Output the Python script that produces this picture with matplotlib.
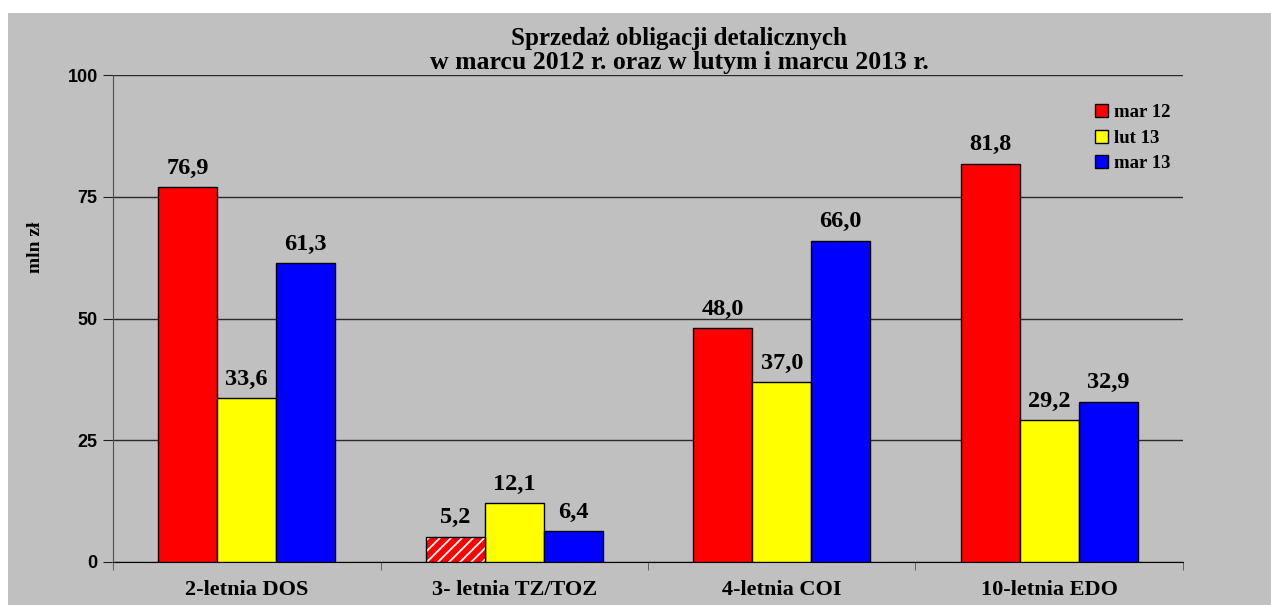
import numpy as np
import matplotlib.pyplot as plt
from matplotlib.patches import Rectangle

categories = ['2-letnia DOS', '3- letnia TZ/TOZ', '4-letnia COI', '10-letnia EDO']
mar12 = [76.9, 5.2, 48.0, 81.8]
lut13 = [33.6, 12.1, 37.0, 29.2]
mar13 = [61.3, 6.4, 66.0, 32.9]
series_names = ['mar 12', 'lut 13', 'mar 13']
yticks = [0, 25, 50, 75, 100]

serif = 'Liberation Serif'
sans = 'Liberation Sans'
plt.rcParams['hatch.linewidth'] = 1.3

W, H = 1271, 605
fig = plt.figure(figsize=(W / 100, H / 100), dpi=100)
fig.patch.set_facecolor('white')
# szare tlo wykresu
fig.patches.append(Rectangle((8 / W, 0), 1 - 8 / W, 1 - 13 / H, transform=fig.transFigure,
                             facecolor='#C0C0C0', edgecolor='none', zorder=-10))

ax = fig.add_axes([113 / W, 1 - 562 / H, (1183 - 113) / W, (562 - 75) / H])
ax.set_facecolor('#C0C0C0')

x = np.arange(len(categories))
w = 0.22
colors = ['#FF0000', '#FFFF00', '#0000FF']
allvals = [mar12, lut13, mar13]

for k, (vals, c) in enumerate(zip(allvals, colors)):
    pos = x + (k - 1) * w
    ax.bar(pos, vals, w, color=c, edgecolor='black', linewidth=1, zorder=3)
    for p, v in zip(pos, vals):
        ax.annotate(f'{v:.1f}'.replace('.', ','), (p, v), xytext=(0, 6),
                    textcoords='offset points', ha='center', va='bottom',
                    fontsize=17.5, fontweight='bold', family=serif, zorder=5)

# kreskowany slupek TZ/TOZ mar 12
ax.patches[1].set_visible(False)
ax.bar(x[1] - w, mar12[1], w, color='#FF0000', edgecolor='white', hatch='///',
       linewidth=0, zorder=3)
ax.bar(x[1] - w, mar12[1], w, fill=False, edgecolor='black', linewidth=1, zorder=4)

ax.set_xlim(-0.5, len(categories) - 0.5)
ax.set_ylim(0, 100)
ax.set_yticks(yticks)
ax.set_yticklabels([str(t) for t in yticks], fontsize=13, fontweight='bold', family=sans)
ax.yaxis.grid(True, color='#2a2a2a', linewidth=1)
ax.set_axisbelow(True)

ax.set_xticks(x)
ax.set_xticklabels(categories, fontsize=16, fontweight='bold', family=serif)
ax.tick_params(axis='x', length=0, pad=13)
ax.set_xticks(np.arange(-0.5, len(categories)), minor=True)
ax.tick_params(axis='x', which='minor', length=6, direction='out', color='#505050')
ax.tick_params(axis='y', length=7, direction='out', color='#202020', pad=4)

for s in ['top', 'right']:
    ax.spines[s].set_visible(False)
ax.spines['left'].set_color('#505050')
ax.spines['bottom'].set_color('black')

fig.text(35 / W, 1 - 247 / H, 'mln zł', rotation=90, ha='center', va='center',
         fontsize=14, fontweight='bold', family=serif)

fig.text(679 / W, 1 - 38 / H, 'Sprzedaż obligacji detalicznych', ha='center', va='center',
         fontsize=18, fontweight='bold', family=serif)
fig.text(679 / W, 1 - 63 / H, 'w marcu 2012 r. oraz w lutym i marcu 2013 r.', ha='center',
         va='center', fontsize=18.5, fontweight='bold', family=serif)

handles = [Rectangle((0, 0), 1, 1, facecolor=c, edgecolor='black') for c in colors]
ax.legend(handles, series_names, loc='upper left', bbox_to_anchor=((1095 - 113) / 1070, (562 - 104) / 487),
          frameon=False, prop={'family': serif, 'weight': 'bold', 'size': 13.5},
          handlelength=0.7, handleheight=0.7, handletextpad=0.3, labelspacing=0.45,
          borderaxespad=0, borderpad=0)

fig.savefig('out.png', dpi=100, facecolor=fig.get_facecolor())
